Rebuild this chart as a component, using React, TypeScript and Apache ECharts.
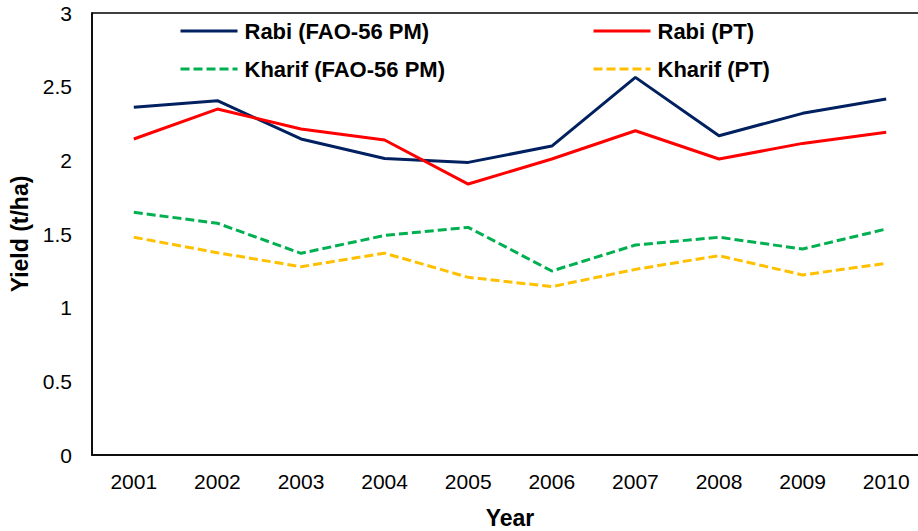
import React, { useEffect, useRef } from "react";
import * as echarts from "echarts";

const years = ["2001", "2002", "2003", "2004", "2005", "2006", "2007", "2008", "2009", "2010"];
const rabiFao = [2.36, 2.405, 2.145, 2.012, 1.986, 2.097, 2.563, 2.167, 2.319, 2.416];
const rabiPt = [2.145, 2.348, 2.213, 2.138, 1.839, 2.009, 2.201, 2.009, 2.115, 2.19];
const kharifFao = [1.647, 1.573, 1.369, 1.49, 1.545, 1.249, 1.425, 1.478, 1.398, 1.534];
const kharifPt = [1.478, 1.373, 1.278, 1.37, 1.206, 1.143, 1.26, 1.353, 1.222, 1.301];

const FONT = "'Liberation Sans', Arial, sans-serif";

export default function App() {
  const ref = useRef<HTMLDivElement>(null);
  useEffect(() => {
    document.body.style.margin = "0";
    document.body.style.overflow = "hidden";
    if (!ref.current) return;
    const chart = echarts.init(ref.current, undefined, { renderer: "svg" });
    const legendText = { fontFamily: FONT, fontSize: 22, fontWeight: "bold" as const, color: "#000", padding: [0, 0, 0, 2] };
    const legendCommon = {
      top: 15, orient: "vertical", itemWidth: 57, itemHeight: 14, itemGap: 16,
      itemStyle: { opacity: 0 }, lineStyle: { width: 3 }, textStyle: legendText,
    };
    chart.setOption({
      animation: false,
      backgroundColor: "#fff",
      grid: {
        left: 92, top: 13, width: 836, height: 442,
        outerBoundsMode: "none", containLabel: false,
        show: true, borderColor: "#000", borderWidth: 1.5,
      },
      legend: [
        { ...legendCommon, left: 174, data: ["Rabi (FAO-56 PM)", "Kharif (FAO-56 PM)"] },
        { ...legendCommon, left: 587, data: ["Rabi (PT)", "Kharif (PT)"] },
      ],
      xAxis: {
        type: "category",
        data: years,
        boundaryGap: true,
        name: "Year",
        nameLocation: "middle",
        nameGap: 51,
        nameTextStyle: { fontFamily: FONT, fontSize: 23, fontWeight: "bold", color: "#000" },
        axisLine: { show: true, lineStyle: { color: "#000", width: 1.5 } },
        axisTick: { show: false },
        axisLabel: { fontFamily: FONT, fontSize: 21, color: "#000", margin: 16 },
        splitLine: { show: false },
      },
      yAxis: {
        type: "value",
        min: 0,
        max: 3,
        interval: 0.5,
        name: "Yield (t/ha)",
        nameLocation: "middle",
        nameGap: 54,
        nameRotate: 90,
        nameTextStyle: { fontFamily: FONT, fontSize: 23, fontWeight: "bold", color: "#000" },
        axisLine: { show: true, lineStyle: { color: "#000", width: 1.5 } },
        axisTick: { show: false },
        axisLabel: { fontFamily: FONT, fontSize: 21, color: "#000", margin: 20 },
        splitLine: { show: false },
      },
      series: [
        { name: "Rabi (FAO-56 PM)", type: "line", data: rabiFao, symbol: "none", color: "#002060", lineStyle: { color: "#002060", width: 3 } },
        { name: "Rabi (PT)", type: "line", data: rabiPt, symbol: "none", color: "#FF0000", lineStyle: { color: "#FF0000", width: 3 } },
        { name: "Kharif (FAO-56 PM)", type: "line", data: kharifFao, symbol: "none", color: "#00B050", lineStyle: { color: "#00B050", width: 3, type: [9, 4] } },
        { name: "Kharif (PT)", type: "line", data: kharifPt, symbol: "none", color: "#FFC000", lineStyle: { color: "#FFC000", width: 3, type: [9, 4] } },
      ],
    });
    return () => chart.dispose();
  }, []);
  return <div ref={ref} style={{ width: 918, height: 531, overflow: "hidden" }} />;
}
